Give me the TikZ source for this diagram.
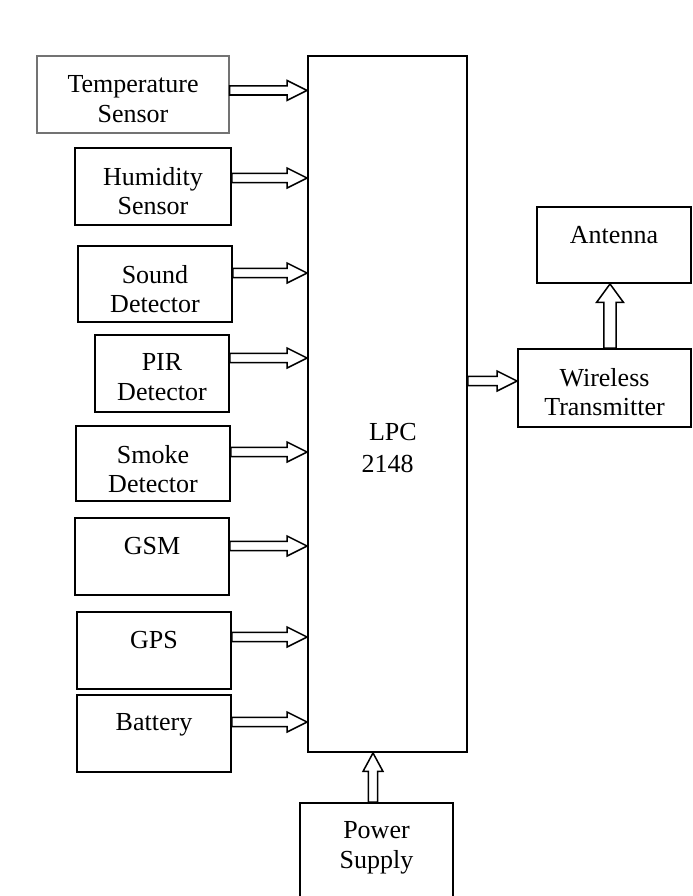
\documentclass[tikz,border=0pt]{standalone}
\usepackage{fontspec}
\setmainfont{Liberation Serif}
\usepackage{tikz}
\usetikzlibrary{positioning, calc}
\newdimen\pxu \pxu=0.4615pt
\tikzset{
  blk/.style 2 args={draw, line width=0.9pt, minimum width=#1\pxu, minimum height=#2\pxu, inner sep=0pt},
  lbl/.style={anchor=north, align=center, inner sep=0pt, yshift=-9pt},
  fat/.style={draw, line width=0.7pt, fill=white, line join=miter},
}
% hollow block arrows: rightwards and upwards
\newcommand{\fatright}[2]{\draw[fat] let \p1=#1, \p2=#2 in
  (\x1,\y1+2.1pt) -- (\x2-9.2pt,\y1+2.1pt) -- (\x2-9.2pt,\y1+4.6pt) -- (\x2,\y1)
  -- (\x2-9.2pt,\y1-4.6pt) -- (\x2-9.2pt,\y1-2.1pt) -- (\x1,\y1-2.1pt) -- cycle;}
\newcommand{\fatup}[3][1]{\draw[fat] let \p1=#2, \p2=#3 in
  (\x1-#1*2.1pt,\y1) -- (\x1-#1*2.1pt,\y2-8.5pt) -- (\x1-#1*4.6pt,\y2-8.5pt) -- (\x1,\y2)
  -- (\x1+#1*4.6pt,\y2-8.5pt) -- (\x1+#1*2.1pt,\y2-8.5pt) -- (\x1+#1*2.1pt,\y1) -- cycle;}

\begin{document}
\begin{tikzpicture}[x=0.4615pt, y=-0.4615pt, font=\fontsize{12}{13.8}\selectfont]
  \useasboundingbox (0,0) rectangle (692,896);

  % sensor and module blocks
  \node[blk={192}{77}, draw=black!55, line width=0.5pt, label={[lbl]north:{Temperature\\Sensor}}] (temp) at (133,94.5) {};
  \node[blk={156}{77}, label={[lbl]north:{Humidity\\Sensor}}] (hum) at (153,186.5) {};
  \node[blk={154}{76}, label={[lbl]north:{Sound\\Detector}}] (sound) at (155,284) {};
  \node[blk={134}{77}, label={[lbl]north:{PIR\\Detector}}] (pir) at (162,373.5) {};
  \node[blk={154}{75}, label={[lbl]north:{Smoke\\Detector}}] (smoke) at (153,463.5) {};
  \node[blk={154}{77}, label={[lbl]north:GSM}] (gsm) at (152,556.5) {};
  \node[blk={154}{77}, label={[lbl]north:GPS}] (gps) at (154,650.5) {};
  \node[blk={154}{77}, label={[lbl]north:Battery}] (bat) at (154,733.5) {};

  % controller
  \node[blk={159}{696}] (lpc) at (387.5,404) {};
  \node[align=center, inner sep=0pt, font=\fontsize{12}{14.8}\selectfont] (lpctxt)
    at ([shift={(0,44)}]lpc.center) {\hspace*{5pt}LPC\\2148};

  \node[blk={154}{76}, label={[lbl]north:Antenna}] (antenna) at (614,245) {};
  \node[blk={173}{78}, label={[lbl]north:{Wireless\\Transmitter}}] (wireless) at (604.5,388) {};
  \node[blk={153}{95}, label={[lbl]north:{Power\\Supply}}] (power) at (376.5,850.5) {};

  % arrows into the controller
  \foreach \b/\d in {temp/35, hum/31, sound/28, pir/24, smoke/27, gsm/29, gps/26, bat/28}
    \fatright{([shift={(0,\d)}]\b.north east)}{(lpc.west)};

  \coordinate (wtx) at ([shift={(0,33)}]wireless.north west);
  \fatright{(lpc.east |- wtx)}{(wtx)}
  \fatup[1.35]{([shift={(5.5,0)}]wireless.north)}{(antenna.south)}
  \fatup{([shift={(-3.5,0)}]power.north)}{(lpc.south)}
\end{tikzpicture}
\end{document}
